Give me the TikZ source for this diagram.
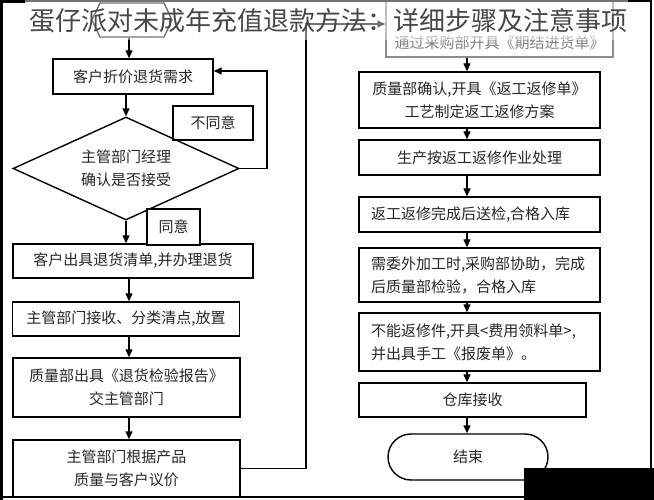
\documentclass[tikz,border=0pt]{standalone}
\usepackage{fontspec}
\setmainfont{Noto Sans CJK SC}
\usetikzlibrary{arrows.meta}
\usetikzlibrary{shapes.geometric, shapes.misc, shapes.symbols}

\tikzset{
  stepbox/.style={draw, rectangle, line width=1.4pt, inner sep=0pt, text=black!85,
    font=\fontsize{15}{23}\selectfont, align=center},
  lbox/.style={stepbox, minimum width=227pt},
  rbox/.style={stepbox, minimum width=241pt, text width=217pt},
  flow/.style={line width=1.4pt, -{Triangle[length=8pt,width=7pt]}},
}

\begin{document}
\begin{tikzpicture}[x=1pt, y=-1pt]
\useasboundingbox (0,0) rectangle (654,500);

%left column
\node[stepbox, signal, signal to=east and west, signal pointer angle=130,
  minimum width=80pt, minimum height=34pt] (start) at (132,20) {};
\node[stepbox, minimum width=160pt, minimum height=35pt] (demand) at (133,76.5) {客户折价退货需求};
\node[stepbox, diamond, aspect=2.2, minimum width=226pt, minimum height=103pt, align=left] (check) at (126,168.5) {主管部门经理\\确认是否接受};
\node[stepbox, minimum width=80pt, minimum height=34pt] (no) at (213,123) {不同意};
\node[stepbox, minimum width=240pt, minimum height=34pt] (slip) at (133,261) {客户出具退货清单,并办理退货};
\node[stepbox, fill=white, minimum width=53pt, minimum height=36pt] (yes) at (173.5,227) {同意};
\node[lbox, minimum height=34pt] (sort) at (126,319) {主管部门接收、分类清点,放置};
\node[lbox, minimum height=59pt] (report) at (126.5,387.5) {质量部出具《退货检验报告》\\交主管部门};
\node[lbox, minimum height=57pt] (price) at (126.5,468.5) {主管部门根据产品\\质量与客户议价};

%right column
\node[stepbox, draw=black!45, minimum width=227pt, minimum height=57pt] (order) at (499.5,28.5) {};
\node[text=black!50, font=\fontsize{15}{23}\selectfont] (ordertxt) at (499.5,43) {通过采购部开具《期结进货单》};
\node[rbox, minimum height=56pt] (rework) at (479.5,100) {质量部确认,开具《返工返修单》\\工艺制定返工返修方案};
\node[rbox, minimum height=35pt] (produce) at (479.5,157.5) {生产按返工返修作业处理};
\node[rbox, minimum height=35pt, align=left] (inspect) at (479.5,214.5) {返工返修完成后送检,合格入库};
\node[rbox, minimum height=54pt, align=left] (outsrc) at (479.5,275) {需委外加工时,采购部协助，完成\\后质量部检验，合格入库};
\node[rbox, minimum height=58pt, align=left] (scrap) at (479.5,342) {不能返修件,开具<费用领料单>,\\并出具手工《报废单》。};
\node[stepbox, minimum width=227pt, minimum height=34pt] (store) at (472.5,400) {仓库接收};
\node[stepbox, rounded rectangle, minimum width=160pt, minimum height=46pt] (finish) at (468,457) {结束};

%arrows
\coordinate (lcol) at (129,0);
\coordinate (rcol) at (467,0);
\coordinate (loop) at (267,0);
\coordinate (bus) at (306,0);
\draw[flow] (start.south -| lcol) -- (demand.north -| lcol);
\draw[flow] (demand.south -| check.north) -- (check.north);
\draw[flow] (check.east) -- (check.east -| loop) |- ([yshift=5.5pt]demand.east);
\draw[flow] (check.south) -- (slip.north -| check.south);
\foreach \a/\b in {slip/sort, sort/report, report/price}
  \draw[flow] (\a.south -| lcol) -- (\b.north -| lcol);
\draw[flow] (price.east) -- (price.east -| bus) |- ([yshift=4.5pt]order.west);
\foreach \a/\b in {order/rework, rework/produce, produce/inspect, inspect/outsrc, outsrc/scrap, scrap/store, store/finish}
  \draw[flow] (\a.south -| rcol) -- (\b.north -| rcol);

%frame
\draw[line width=3pt] (1.5,0) -- (1.5,500);
\fill (0,0) rectangle (25,3);
\draw[line width=1.5pt] (25,1) -- (652,1);
\draw[line width=1.5pt] (651,0) -- (651,468);
\draw[line width=1.5pt] (0,497) -- (524,497);
\fill (524,468) rectangle (654,500);

%title
\fill[white, opacity=0.45] (25,0) rectangle (628,40);
\node[text=black!72, font=\fontsize{26}{26}\selectfont] (title) at (329,21) {蛋仔派对未成年充值退款方法：详细步骤及注意事项};

\end{tikzpicture}
\end{document}
